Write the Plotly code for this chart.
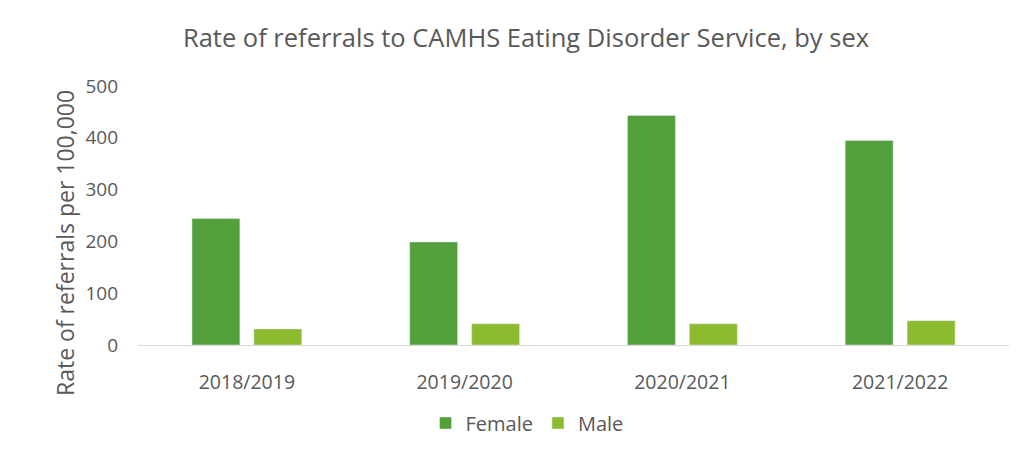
import plotly.graph_objects as go

# Referral rates per 100,000 by financial year
years = ["2018/2019", "2019/2020", "2020/2021", "2021/2022"]
female = [244, 199, 443, 395]
male = [31, 41, 41, 47]

FONT = "'Open Sans', 'Noto Sans', sans-serif"
TEXT = "#595959"

W, H = 1022, 451
ML, MR, MT, MB = 138, 13, 86, 106
PLOT_W, PLOT_H = W - ML - MR, H - MT - MB

fig = go.Figure()
fig.add_trace(go.Bar(name="Female", x=years, y=female, marker_color="#539F3B"))
fig.add_trace(go.Bar(name="Male", x=years, y=male, marker_color="#8CBB30"))

fig.update_layout(
    width=W,
    height=H,
    margin=dict(l=ML, r=MR, t=MT, b=MB, autoexpand=False),
    paper_bgcolor="white",
    plot_bgcolor="white",
    barmode="group",
    bargap=0.431,
    bargroupgap=0.226,
    font=dict(family=FONT, color=TEXT, size=19),
    title=dict(
        text="Rate of referrals to CAMHS Eating Disorder Service, by sex",
        x=526 / W, xanchor="center", y=1 - 38 / H, yanchor="middle",
        font=dict(size=25.5, color=TEXT, family=FONT),
    ),
    legend=dict(
        orientation="h", x=(527 - ML) / PLOT_W, xanchor="center",
        yref="container", y=1 - 423 / H, yanchor="middle",
        font=dict(size=20, color=TEXT), itemwidth=30,
    ),
    showlegend=True,
)

# Vertical axis title, sitting slightly below the plot's middle
fig.add_annotation(
    text="Rate of referrals per 100,000",
    xref="paper", yref="paper",
    x=(65 - ML) / PLOT_W, y=(MT + PLOT_H - 243) / PLOT_H,
    xanchor="center", yanchor="middle", textangle=-90, showarrow=False,
    font=dict(size=23, color=TEXT, family=FONT),
)

fig.update_xaxes(
    showgrid=False, showline=True, linecolor="#D9D9D9", linewidth=1,
    ticks="", ticklabelstandoff=20, tickfont=dict(size=19.5, color=TEXT),
)
fig.update_yaxes(
    range=[0, 500], dtick=100, showgrid=False, zeroline=False, showline=False,
    ticks="", ticklabelstandoff=19, tickfont=dict(size=19, color=TEXT),
)

fig.write_html("out.html")
